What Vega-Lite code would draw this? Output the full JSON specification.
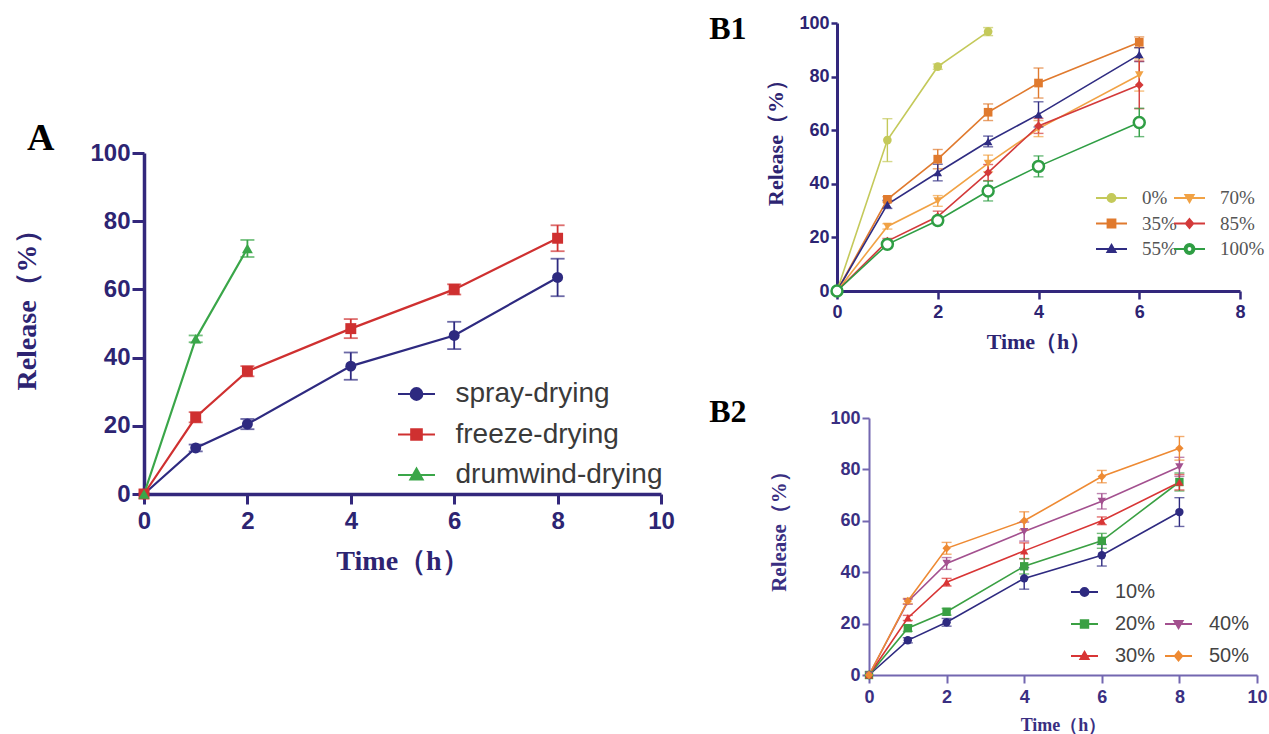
{
  "$schema": "https://vega.github.io/schema/vega-lite/v6.json",
  "background": "white",
  "padding": {"left": 13, "top": 13, "right": 0, "bottom": 0},
  "config": {"view": {"stroke": null}},
  "datasets": {
    "dA": [
      {"s": "spray-drying", "t": 0, "r": 0},
      {"s": "spray-drying", "t": 1, "r": 13.5, "e": 1},
      {"s": "spray-drying", "t": 2, "r": 20.5, "e": 1.5},
      {"s": "spray-drying", "t": 4, "r": 37.5, "e": 4},
      {"s": "spray-drying", "t": 6, "r": 46.5, "e": 4},
      {"s": "spray-drying", "t": 8, "r": 63.5, "e": 5.5},
      {"s": "freeze-drying", "t": 0, "r": 0},
      {"s": "freeze-drying", "t": 1, "r": 22.5, "e": 1.5},
      {"s": "freeze-drying", "t": 2, "r": 36, "e": 1.5},
      {"s": "freeze-drying", "t": 4, "r": 48.5, "e": 2.8},
      {"s": "freeze-drying", "t": 6, "r": 60, "e": 1.5},
      {"s": "freeze-drying", "t": 8, "r": 75, "e": 3.8},
      {"s": "drumwind-drying", "t": 0, "r": 0},
      {"s": "drumwind-drying", "t": 1, "r": 45.5, "e": 1},
      {"s": "drumwind-drying", "t": 2, "r": 72, "e": 2.5}
    ],
    "dB1": [
      {"s": "0%", "t": 0, "r": 0},
      {"s": "0%", "t": 1, "r": 56.3, "e": 8},
      {"s": "0%", "t": 2, "r": 83.7, "e": 1},
      {"s": "0%", "t": 3, "r": 96.8, "e": 1.5},
      {"s": "35%", "t": 0, "r": 0},
      {"s": "35%", "t": 1, "r": 34.2, "e": 1},
      {"s": "35%", "t": 2, "r": 49.2, "e": 3.6},
      {"s": "35%", "t": 3, "r": 66.7, "e": 3.1},
      {"s": "35%", "t": 4, "r": 77.6, "e": 5.6},
      {"s": "35%", "t": 6, "r": 92.8, "e": 2},
      {"s": "55%", "t": 0, "r": 0},
      {"s": "55%", "t": 1, "r": 32.3, "e": 1.5},
      {"s": "55%", "t": 2, "r": 44.2, "e": 3.1},
      {"s": "55%", "t": 3, "r": 55.8, "e": 2},
      {"s": "55%", "t": 4, "r": 65.9, "e": 4.7},
      {"s": "55%", "t": 6, "r": 88.2, "e": 2.6},
      {"s": "70%", "t": 0, "r": 0},
      {"s": "70%", "t": 1, "r": 24.1, "e": 1},
      {"s": "70%", "t": 2, "r": 33.6, "e": 2},
      {"s": "70%", "t": 3, "r": 47.6, "e": 3.1},
      {"s": "70%", "t": 4, "r": 60.6, "e": 3},
      {"s": "70%", "t": 6, "r": 80.6, "e": 6},
      {"s": "85%", "t": 0, "r": 0},
      {"s": "85%", "t": 1, "r": 18.6, "e": 1},
      {"s": "85%", "t": 2, "r": 27.8, "e": 2},
      {"s": "85%", "t": 3, "r": 44.2, "e": 3},
      {"s": "85%", "t": 4, "r": 61.6, "e": 2.8},
      {"s": "85%", "t": 6, "r": 76.9, "e": 8.9},
      {"s": "100%", "t": 0, "r": 0},
      {"s": "100%", "t": 1, "r": 17.4, "e": 1.4},
      {"s": "100%", "t": 2, "r": 26.3, "e": 1.5},
      {"s": "100%", "t": 3, "r": 37.3, "e": 3.7},
      {"s": "100%", "t": 4, "r": 46.5, "e": 3.9},
      {"s": "100%", "t": 6, "r": 62.9, "e": 5.3}
    ],
    "dB2": [
      {"s": "10%", "t": 0, "r": 0},
      {"s": "10%", "t": 1, "r": 13.5, "e": 1},
      {"s": "10%", "t": 2, "r": 20.5, "e": 1.5},
      {"s": "10%", "t": 4, "r": 37.6, "e": 4.2},
      {"s": "10%", "t": 6, "r": 46.6, "e": 4.2},
      {"s": "10%", "t": 8, "r": 63.4, "e": 5.6},
      {"s": "20%", "t": 0, "r": 0},
      {"s": "20%", "t": 1, "r": 18.2, "e": 1.2},
      {"s": "20%", "t": 2, "r": 24.6, "e": 1.3},
      {"s": "20%", "t": 4, "r": 42.3, "e": 3},
      {"s": "20%", "t": 6, "r": 52.2, "e": 2.9},
      {"s": "20%", "t": 8, "r": 75.1, "e": 3.5},
      {"s": "30%", "t": 0, "r": 0},
      {"s": "30%", "t": 1, "r": 22.2, "e": 1},
      {"s": "30%", "t": 2, "r": 36.1, "e": 1.5},
      {"s": "30%", "t": 4, "r": 48.3, "e": 3.1},
      {"s": "30%", "t": 6, "r": 60, "e": 1.5},
      {"s": "30%", "t": 8, "r": 75, "e": 3},
      {"s": "40%", "t": 0, "r": 0},
      {"s": "40%", "t": 1, "r": 28.5, "e": 1},
      {"s": "40%", "t": 2, "r": 43.4, "e": 2.3},
      {"s": "40%", "t": 4, "r": 55.8, "e": 3.7},
      {"s": "40%", "t": 6, "r": 67.6, "e": 3},
      {"s": "40%", "t": 8, "r": 81, "e": 3.7},
      {"s": "50%", "t": 0, "r": 0},
      {"s": "50%", "t": 1, "r": 28.8, "e": 1},
      {"s": "50%", "t": 2, "r": 49.3, "e": 2.3},
      {"s": "50%", "t": 4, "r": 60, "e": 3.5},
      {"s": "50%", "t": 6, "r": 77.2, "e": 2.4},
      {"s": "50%", "t": 8, "r": 88.2, "e": 4.6}
    ]
  },
  "columns": 2,
  "align": "none",
  "spacing": 34,
  "resolve": {"scale": {"color": "independent", "fill": "independent", "stroke": "independent", "shape": "independent"}},
  "concat": [
    {
      "width": 517,
      "height": 471,
      "data": {"name": "dA"},
      "title": {"text": "A", "orient": "top", "anchor": "start", "frame": "bounds", "baseline": "alphabetic", "font": "Liberation Serif", "fontSize": 38, "fontWeight": "bold", "color": "#000000", "offset": 0, "dx": 13, "dy": 165},
      "encoding": {
        "x": {"field": "t", "type": "quantitative", "scale": {"domain": [0, 10], "nice": false},
          "axis": {"values": [0, 2, 4, 6, 8, 10], "title": "Time（h）", "grid": false, "domainColor": "#33287c", "domainWidth": 3.5, "tickColor": "#33287c", "tickWidth": 3, "tickSize": 10, "labelFont": "Liberation Sans", "labelFontSize": 24, "labelFontWeight": "bold", "labelColor": "#2d2472", "labelPadding": 5, "labelFlush": false, "titleFont": "Liberation Serif", "titleFontSize": 28, "titleFontWeight": "bold", "titleColor": "#2d2472", "titlePadding": 14}},
        "y": {"field": "r", "type": "quantitative", "scale": {"domain": [0, 100], "nice": false, "range": [471, 130]},
          "axis": {"values": [0, 20, 40, 60, 80, 100], "title": "Release（%）", "titleY": 280, "grid": false, "domainColor": "#33287c", "domainWidth": 3.5, "tickColor": "#33287c", "tickWidth": 3, "tickSize": 12, "labelFont": "Liberation Sans", "labelFontSize": 24, "labelFontWeight": "bold", "labelColor": "#2d2472", "labelPadding": 2, "labelFlush": false, "titleFont": "Liberation Serif", "titleFontSize": 28, "titleFontWeight": "bold", "titleColor": "#2d2472", "titlePadding": 48}}
      },
      "layer": [
        {"mark": {"type": "line", "strokeWidth": 2.2},
          "encoding": {"color": {"field": "s", "type": "nominal", "scale": {"domain": ["spray-drying", "freeze-drying", "drumwind-drying"], "range": ["#2e2a80", "#cf3030", "#3aa649"]}, "legend": null}}},
        {"transform": [{"filter": "datum.e > 0"}],
          "mark": {"type": "errorbar", "ticks": true, "size": 14, "thickness": 1.8},
          "encoding": {"yError": {"field": "e"}, "color": {"field": "s", "type": "nominal", "scale": {"domain": ["spray-drying", "freeze-drying", "drumwind-drying"], "range": ["#2e2a80", "#cf3030", "#3aa649"]}, "legend": null}}},
        {"mark": {"type": "point", "filled": true, "opacity": 1, "size": 120},
          "encoding": {"color": {"field": "s", "type": "nominal", "scale": {"domain": ["spray-drying", "freeze-drying", "drumwind-drying"], "range": ["#2e2a80", "#cf3030", "#3aa649"]}, "legend": null},
            "shape": {"field": "s", "type": "nominal", "scale": {"domain": ["spray-drying", "freeze-drying", "drumwind-drying"], "range": ["circle", "square", "triangle-up"]}, "legend": null}}},
        {"transform": [{"filter": "datum.t < 0"}],
          "mark": {"type": "point", "opacity": 1},
          "encoding": {
            "fill": {"field": "s", "type": "nominal", "scale": {"domain": ["spray-drying", "freeze-drying", "drumwind-drying"], "range": ["#2e2a80", "#cf3030", "#3aa649"]},
              "legend": {"title": null, "orient": "none", "legendX": 257.5, "legendY": 356, "symbolSize": 784, "symbolStrokeWidth": 2, "labelFont": "Liberation Sans", "labelFontSize": 28, "labelColor": "#3a3a3a", "labelOffset": 24, "labelLimit": 400, "rowPadding": 11.5, "padding": 0}},
            "stroke": {"field": "s", "type": "nominal", "scale": {"domain": ["spray-drying", "freeze-drying", "drumwind-drying"], "range": ["#2e2a80", "#cf3030", "#3aa649"]},
              "legend": {"title": null, "orient": "none", "legendX": 257.5, "legendY": 356, "symbolSize": 784, "symbolStrokeWidth": 2, "labelFont": "Liberation Sans", "labelFontSize": 28, "labelColor": "#3a3a3a", "labelOffset": 24, "labelLimit": 400, "rowPadding": 11.5, "padding": 0}},
            "shape": {"field": "s", "type": "nominal", "scale": {"domain": ["spray-drying", "freeze-drying", "drumwind-drying"], "range": ["M-1.32,0H1.32M-0.42,0A0.42,0.42 0 1,1 0.42,0A0.42,0.42 0 1,1 -0.42,0Z", "M-1.32,0H1.32M-0.38,-0.38H0.38V0.38H-0.38Z", "M-1.32,0H1.32M0,-0.46L0.44,0.32H-0.44Z"]},
              "legend": {"title": null, "orient": "none", "legendX": 257.5, "legendY": 356, "symbolSize": 784, "symbolStrokeWidth": 2, "labelFont": "Liberation Sans", "labelFontSize": 28, "labelColor": "#3a3a3a", "labelOffset": 24, "labelLimit": 400, "rowPadding": 11.5, "padding": 0}}
          }}
      ],
      "resolve": {"scale": {"shape": "independent", "fill": "independent", "stroke": "independent"}}
    },
    {
      "columns": 1,
      "align": "none",
      "spacing": 44,
      "resolve": {"scale": {"color": "independent", "fill": "independent", "stroke": "independent", "shape": "independent"}},
      "concat": [
        {
          "width": 403,
          "height": 268,
          "data": {"name": "dB1"},
          "title": {"text": "B1", "orient": "left", "anchor": "end", "angle": 0, "align": "right", "baseline": "top", "font": "Liberation Serif", "fontSize": 32, "fontWeight": "bold", "color": "#000000", "offset": -19},
          "encoding": {
            "x": {"field": "t", "type": "quantitative", "scale": {"domain": [0, 8], "nice": false},
              "axis": {"values": [0, 2, 4, 6, 8], "title": "Time（h）", "grid": false, "domainColor": "#33287c", "domainWidth": 3, "tickColor": "#33287c", "tickWidth": 2.5, "tickSize": 8, "labelFont": "Liberation Sans", "labelFontSize": 18, "labelFontWeight": "bold", "labelColor": "#2d2472", "labelPadding": 4, "labelFlush": false, "titleFont": "Liberation Serif", "titleFontSize": 22, "titleFontWeight": "bold", "titleColor": "#2d2472", "titlePadding": 10}},
            "y": {"field": "r", "type": "quantitative", "scale": {"domain": [0, 100], "nice": false},
              "axis": {"values": [0, 20, 40, 60, 80, 100], "title": "Release（%）", "titleY": 114, "grid": false, "domainColor": "#33287c", "domainWidth": 3, "tickColor": "#33287c", "tickWidth": 2.5, "tickSize": 6, "labelFont": "Liberation Sans", "labelFontSize": 18, "labelFontWeight": "bold", "labelColor": "#2d2472", "labelPadding": 2, "labelFlush": false, "titleFont": "Liberation Serif", "titleFontSize": 22, "titleFontWeight": "bold", "titleColor": "#2d2472", "titlePadding": 11}}
          },
          "layer": [
            {"mark": {"type": "line", "strokeWidth": 1.6},
              "encoding": {"color": {"field": "s", "type": "nominal", "scale": {"domain": ["0%", "35%", "55%", "70%", "85%", "100%"], "range": ["#c4c95a", "#e07a2e", "#2f2c82", "#f1a245", "#d33a3a", "#2f9e44"]}, "legend": null}}},
            {"transform": [{"filter": "datum.e > 0"}],
              "mark": {"type": "errorbar", "ticks": true, "size": 10, "thickness": 1.4},
              "encoding": {"yError": {"field": "e"}, "color": {"field": "s", "type": "nominal", "scale": {"domain": ["0%", "35%", "55%", "70%", "85%", "100%"], "range": ["#c4c95a", "#e07a2e", "#2f2c82", "#f1a245", "#d33a3a", "#2f9e44"]}, "legend": null}}},
            {"transform": [{"filter": "datum.s != '100%'"}],
              "mark": {"type": "point", "filled": true, "opacity": 1, "size": 75},
              "encoding": {"color": {"field": "s", "type": "nominal", "scale": {"domain": ["0%", "35%", "55%", "70%", "85%", "100%"], "range": ["#c4c95a", "#e07a2e", "#2f2c82", "#f1a245", "#d33a3a", "#2f9e44"]}, "legend": null},
                "shape": {"field": "s", "type": "nominal", "scale": {"domain": ["0%", "35%", "55%", "70%", "85%"], "range": ["circle", "square", "triangle-up", "triangle-down", "diamond"]}, "legend": null}}},
            {"transform": [{"filter": "datum.s == '100%'"}],
              "mark": {"type": "point", "shape": "circle", "filled": false, "fill": "white", "strokeWidth": 2.5, "opacity": 1, "size": 120},
              "encoding": {"color": {"field": "s", "type": "nominal", "scale": {"domain": ["0%", "35%", "55%", "70%", "85%", "100%"], "range": ["#c4c95a", "#e07a2e", "#2f2c82", "#f1a245", "#d33a3a", "#2f9e44"]}, "legend": null}}},
            {"transform": [{"filter": "datum.t < 0"}],
              "mark": {"type": "point", "opacity": 1},
              "encoding": {
                "fill": {"field": "s", "type": "nominal", "scale": {"domain": ["0%", "35%", "55%", "70%", "85%", "100%"], "range": ["#c4c95a", "#e07a2e", "#2f2c82", "#f1a245", "#d33a3a", "#2f9e44"]},
                  "legend": {"title": null, "orient": "none", "legendX": 263.5, "legendY": 164, "columns": 2, "symbolSize": 400, "symbolStrokeWidth": 1.8, "labelFont": "Liberation Serif", "labelFontSize": 19, "labelColor": "#555555", "labelOffset": 19.5, "rowPadding": 4.5, "columnPadding": -8, "padding": 0}},
                "stroke": {"field": "s", "type": "nominal", "scale": {"domain": ["0%", "35%", "55%", "70%", "85%", "100%"], "range": ["#c4c95a", "#e07a2e", "#2f2c82", "#f1a245", "#d33a3a", "#2f9e44"]},
                  "legend": {"title": null, "orient": "none", "legendX": 263.5, "legendY": 164, "columns": 2, "symbolSize": 400, "symbolStrokeWidth": 1.8, "labelFont": "Liberation Serif", "labelFontSize": 19, "labelColor": "#555555", "labelOffset": 19.5, "rowPadding": 4.5, "columnPadding": -8, "padding": 0}},
                "shape": {"field": "s", "type": "nominal", "scale": {"domain": ["0%", "35%", "55%", "70%", "85%", "100%"], "range": [
                    "M-1.55,0H1.55M-0.4,0A0.4,0.4 0 1,1 0.4,0A0.4,0.4 0 1,1 -0.4,0Z",
                    "M-1.55,0H1.55M-0.4,-0.4H0.4V0.4H-0.4Z",
                    "M-1.55,0H1.55M0,-0.42L0.42,0.32H-0.42Z",
                    "M-1.55,0H1.55M0,0.42L0.42,-0.32H-0.42Z",
                    "M-1.55,0H1.55M0,-0.45L0.38,0L0,0.45L-0.38,0Z",
                    "M-1.55,0H-0.5M0.5,0H1.55M-0.5,0A0.5,0.5 0 1,1 0.5,0A0.5,0.5 0 1,1 -0.5,0ZM-0.28,0A0.28,0.28 0 1,0 0.28,0A0.28,0.28 0 1,0 -0.28,0Z"]},
                  "legend": {"title": null, "orient": "none", "legendX": 263.5, "legendY": 164, "columns": 2, "symbolSize": 400, "symbolStrokeWidth": 1.8, "labelFont": "Liberation Serif", "labelFontSize": 19, "labelColor": "#555555", "labelOffset": 19.5, "rowPadding": 4.5, "columnPadding": -8, "padding": 0}}
              }}
          ],
          "resolve": {"scale": {"shape": "independent", "fill": "independent", "stroke": "independent"}}
        },
        {
          "width": 420,
          "height": 257,
          "data": {"name": "dB2"},
          "title": {"text": "B2", "orient": "left", "anchor": "end", "angle": 0, "align": "right", "baseline": "top", "font": "Liberation Serif", "fontSize": 32, "fontWeight": "bold", "color": "#000000", "offset": -15, "dy": -12},
          "encoding": {
            "x": {"field": "t", "type": "quantitative", "scale": {"domain": [0, 10], "nice": false, "range": [32, 420]},
              "axis": {"values": [0, 2, 4, 6, 8, 10], "title": "Time（h）", "grid": false, "domainColor": "#7367b0", "domainWidth": 2, "tickColor": "#7367b0", "tickWidth": 2, "tickSize": 8, "labelFont": "Liberation Sans", "labelFontSize": 18, "labelFontWeight": "bold", "labelColor": "#3a2f82", "labelPadding": 5, "labelFlush": false, "titleFont": "Liberation Serif", "titleFontSize": 18, "titleFontWeight": "bold", "titleColor": "#3a2f82", "titlePadding": 10}},
            "y": {"field": "r", "type": "quantitative", "scale": {"domain": [0, 100], "nice": false},
              "axis": {"values": [0, 20, 40, 60, 80, 100], "offset": -32, "title": "Release（%）", "titleY": 108, "grid": false, "domainColor": "#7367b0", "domainWidth": 2, "tickColor": "#7367b0", "tickWidth": 2, "tickSize": 7, "labelFont": "Liberation Sans", "labelFontSize": 18, "labelFontWeight": "bold", "labelColor": "#3a2f82", "labelPadding": 2, "labelFlush": false, "titleFont": "Liberation Serif", "titleFontSize": 21, "titleFontWeight": "bold", "titleColor": "#3a2f82", "titlePadding": 40}}
          },
          "layer": [
            {"mark": {"type": "line", "strokeWidth": 1.6},
              "encoding": {"color": {"field": "s", "type": "nominal", "scale": {"domain": ["10%", "20%", "30%", "40%", "50%"], "range": ["#2e2a80", "#3aa043", "#d83535", "#a3508f", "#ee8a33"]}, "legend": null}}},
            {"transform": [{"filter": "datum.e > 0"}],
              "mark": {"type": "errorbar", "ticks": true, "size": 10, "thickness": 1.4},
              "encoding": {"yError": {"field": "e"}, "color": {"field": "s", "type": "nominal", "scale": {"domain": ["10%", "20%", "30%", "40%", "50%"], "range": ["#2e2a80", "#3aa043", "#d83535", "#a3508f", "#ee8a33"]}, "legend": null}}},
            {"mark": {"type": "point", "filled": true, "opacity": 1, "size": 70},
              "encoding": {"color": {"field": "s", "type": "nominal", "scale": {"domain": ["10%", "20%", "30%", "40%", "50%"], "range": ["#2e2a80", "#3aa043", "#d83535", "#a3508f", "#ee8a33"]}, "legend": null},
                "shape": {"field": "s", "type": "nominal", "scale": {"domain": ["10%", "20%", "30%", "40%", "50%"], "range": ["circle", "square", "triangle-up", "triangle-down", "diamond"]}, "legend": null}}},
            {"transform": [{"filter": "datum.t < 0"}],
              "mark": {"type": "point", "opacity": 1},
              "encoding": {
                "fill": {"field": "s", "type": "nominal", "scale": {"domain": ["10%", "20%", "30%", " ", "40%", "50%"], "range": ["#2e2a80", "#3aa043", "#d83535", "transparent", "#a3508f", "#ee8a33"]},
                  "legend": {"title": null, "orient": "none", "legendX": 236.5, "legendY": 163, "columns": 2, "symbolSize": 400, "symbolStrokeWidth": 1.8, "labelFont": "Liberation Sans", "labelFontSize": 20, "labelColor": "#444444", "labelOffset": 19.5, "rowPadding": 11, "columnPadding": 5, "padding": 0}},
                "stroke": {"field": "s", "type": "nominal", "scale": {"domain": ["10%", "20%", "30%", " ", "40%", "50%"], "range": ["#2e2a80", "#3aa043", "#d83535", "transparent", "#a3508f", "#ee8a33"]},
                  "legend": {"title": null, "orient": "none", "legendX": 236.5, "legendY": 163, "columns": 2, "symbolSize": 400, "symbolStrokeWidth": 1.8, "labelFont": "Liberation Sans", "labelFontSize": 20, "labelColor": "#444444", "labelOffset": 19.5, "rowPadding": 11, "columnPadding": 5, "padding": 0}},
                "shape": {"field": "s", "type": "nominal", "scale": {"domain": ["10%", "20%", "30%", " ", "40%", "50%"], "range": [
                    "M-1.35,0H1.35M-0.4,0A0.4,0.4 0 1,1 0.4,0A0.4,0.4 0 1,1 -0.4,0Z",
                    "M-1.35,0H1.35M-0.38,-0.38H0.38V0.38H-0.38Z",
                    "M-1.35,0H1.35M0,-0.42L0.42,0.32H-0.42Z",
                    "M0,0",
                    "M-1.35,0H1.35M0,0.42L0.42,-0.32H-0.42Z",
                    "M-1.35,0H1.35M0,-0.45L0.38,0L0,0.45L-0.38,0Z"]},
                  "legend": {"title": null, "orient": "none", "legendX": 236.5, "legendY": 163, "columns": 2, "symbolSize": 400, "symbolStrokeWidth": 1.8, "labelFont": "Liberation Sans", "labelFontSize": 20, "labelColor": "#444444", "labelOffset": 19.5, "rowPadding": 11, "columnPadding": 5, "padding": 0}}
              }}
          ],
          "resolve": {"scale": {"shape": "independent", "fill": "independent", "stroke": "independent"}}
        }
      ]
    }
  ]
}
